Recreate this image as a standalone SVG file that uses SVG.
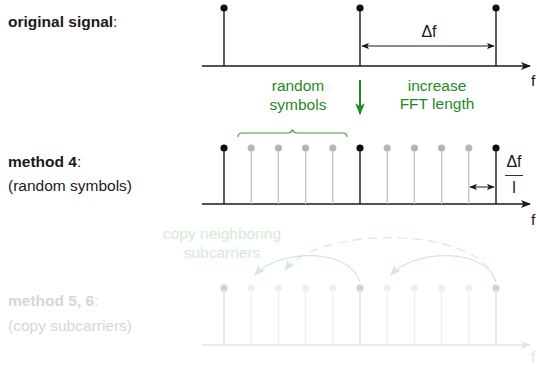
<svg xmlns="http://www.w3.org/2000/svg" width="537" height="365" viewBox="0 0 537 365">
<defs>
<style>
text{font-family:"Liberation Sans",Arial,sans-serif;font-size:15.5px}
.b{font-weight:bold}
.k{fill:#1a1a1a}
.g{fill:#1f8a1f}
.fg{fill:#d5ead5}
.fk{fill:#d6d6d6}
.ax{stroke:#1a1a1a;stroke-width:1.3;fill:none}
.st{stroke:#1a1a1a;stroke-width:1.4}
.sg{stroke:#bdbdbd;stroke-width:1.2}
.fs{stroke:#d9d9d9;stroke-width:1.2}
.fl{stroke:#efefef;stroke-width:1.2}
</style>
<marker id="ah" viewBox="0 0 10 8" refX="9" refY="4" markerWidth="10" markerHeight="8" markerUnits="userSpaceOnUse" orient="auto-start-reverse">
<path d="M0,0 L10,4 L0,8 L2.5,4 z" fill="#1a1a1a"/>
</marker>
<marker id="ahs" viewBox="0 0 10 8" refX="9" refY="4" markerWidth="8" markerHeight="6.4" markerUnits="userSpaceOnUse" orient="auto-start-reverse">
<path d="M0,0 L10,4 L0,8 L2.5,4 z" fill="#1a1a1a"/>
</marker>
<marker id="ahf" viewBox="0 0 10 8" refX="9" refY="4" markerWidth="10" markerHeight="8" markerUnits="userSpaceOnUse" orient="auto">
<path d="M0,0 L10,4 L0,8 L2.5,4 z" fill="#e3e3e3"/>
</marker>
<marker id="ahg" viewBox="0 0 10 8" refX="9" refY="4" markerWidth="11" markerHeight="9" markerUnits="userSpaceOnUse" orient="auto">
<path d="M0,0 L10,4 L0,8 L2.5,4 z" fill="#d3e9d3"/>
</marker>
<marker id="ahG" viewBox="0 0 10 8" refX="9" refY="4" markerWidth="12" markerHeight="10" markerUnits="userSpaceOnUse" orient="auto">
<path d="M0,0 L10,4 L0,8 L2.5,4 z" fill="#1f8a1f"/>
</marker>
</defs>
<rect width="537" height="365" fill="#ffffff"/>

<g id="original">
<text x="8" y="27" class="k"><tspan class="b">original signal</tspan>:</text>
<line x1="202" y1="66" x2="530" y2="66" class="ax" marker-end="url(#ah)"/>
<text x="531" y="86" class="k">f</text>
<line x1="224" y1="8" x2="224" y2="66" class="st"/>
<line x1="360" y1="8" x2="360" y2="66" class="st"/>
<line x1="496" y1="8" x2="496" y2="66" class="st"/>
<circle cx="224" cy="8" r="3.6" fill="#111"/>
<circle cx="360" cy="8" r="3.6" fill="#111"/>
<circle cx="496" cy="8" r="3.6" fill="#111"/>
<line x1="362" y1="46" x2="494" y2="46" stroke="#1a1a1a" stroke-width="1" marker-start="url(#ahs)" marker-end="url(#ahs)"/>
<text x="429" y="37" class="k" text-anchor="middle" style="font-size:16px">Δf</text>
</g>

<g id="transition">
<line x1="360" y1="80" x2="360" y2="114" stroke="#1f8a1f" stroke-width="2" marker-end="url(#ahG)"/>
<text x="298" y="91" class="g" text-anchor="middle">random</text>
<text x="298" y="110" class="g" text-anchor="middle">symbols</text>
<text x="437" y="91" class="g" text-anchor="middle">increase</text>
<text x="437" y="109" class="g" text-anchor="middle">FFT length</text>
</g>

<g id="method4">
<text x="8" y="167" class="k"><tspan class="b">method 4</tspan>:</text>
<text x="8" y="191" class="k">(random symbols)</text>
<path d="M238,137 Q238,133 242,133 L288,133 Q291,133 292.5,130 Q294,133 297,133 L343,133 Q347,133 347,137" fill="none" stroke="#3a9e3a" stroke-width="1.1"/>
<line x1="202" y1="204" x2="530" y2="204" class="ax" marker-end="url(#ah)"/>
<text x="531" y="225" class="k">f</text>
<g class="sg">
<line x1="251.2" y1="148" x2="251.2" y2="204"/>
<line x1="278.4" y1="148" x2="278.4" y2="204"/>
<line x1="305.6" y1="148" x2="305.6" y2="204"/>
<line x1="332.8" y1="148" x2="332.8" y2="204"/>
<line x1="387.2" y1="148" x2="387.2" y2="204"/>
<line x1="414.4" y1="148" x2="414.4" y2="204"/>
<line x1="441.6" y1="148" x2="441.6" y2="204"/>
<line x1="468.8" y1="148" x2="468.8" y2="204"/>
</g>
<g fill="#b5b5b5">
<circle cx="251.2" cy="148" r="3.6"/>
<circle cx="278.4" cy="148" r="3.6"/>
<circle cx="305.6" cy="148" r="3.6"/>
<circle cx="332.8" cy="148" r="3.6"/>
<circle cx="387.2" cy="148" r="3.6"/>
<circle cx="414.4" cy="148" r="3.6"/>
<circle cx="441.6" cy="148" r="3.6"/>
<circle cx="468.8" cy="148" r="3.6"/>
</g>
<line x1="224" y1="148" x2="224" y2="204" class="st"/>
<line x1="360" y1="148" x2="360" y2="204" class="st"/>
<line x1="496" y1="148" x2="496" y2="204" class="st"/>
<circle cx="224" cy="148" r="3.6" fill="#111"/>
<circle cx="360" cy="148" r="3.6" fill="#111"/>
<circle cx="496" cy="148" r="3.6" fill="#111"/>
<line x1="470" y1="187" x2="494" y2="187" stroke="#1a1a1a" stroke-width="1" marker-start="url(#ahs)" marker-end="url(#ahs)"/>
<text x="514" y="167" class="k" text-anchor="middle" style="font-size:16px">Δf</text>
<line x1="505" y1="175.5" x2="523" y2="175.5" stroke="#1a1a1a" stroke-width="0.9"/>
<text x="514" y="193" class="k" text-anchor="middle" style="font-size:16px">l</text>
</g>

<g id="method56">
<text x="8" y="306" class="fk"><tspan class="b">method 5, 6</tspan>:</text>
<text x="8" y="331" class="fk">(copy subcarriers)</text>
<line x1="202" y1="345" x2="530" y2="345" stroke="#e3e3e3" stroke-width="1.3" marker-end="url(#ahf)"/>
<text x="531" y="362" fill="#e3e3e3" style="font-size:15px">f</text>
<g class="fl">
<line x1="251.2" y1="288" x2="251.2" y2="345"/>
<line x1="278.4" y1="288" x2="278.4" y2="345"/>
<line x1="305.6" y1="288" x2="305.6" y2="345"/>
<line x1="332.8" y1="288" x2="332.8" y2="345"/>
<line x1="387.2" y1="288" x2="387.2" y2="345"/>
<line x1="414.4" y1="288" x2="414.4" y2="345"/>
<line x1="441.6" y1="288" x2="441.6" y2="345"/>
<line x1="468.8" y1="288" x2="468.8" y2="345"/>
</g>
<g fill="#efefef">
<circle cx="251.2" cy="288" r="3.6"/>
<circle cx="278.4" cy="288" r="3.6"/>
<circle cx="305.6" cy="288" r="3.6"/>
<circle cx="332.8" cy="288" r="3.6"/>
<circle cx="387.2" cy="288" r="3.6"/>
<circle cx="414.4" cy="288" r="3.6"/>
<circle cx="441.6" cy="288" r="3.6"/>
<circle cx="468.8" cy="288" r="3.6"/>
</g>
<g class="fs">
<line x1="224" y1="288" x2="224" y2="345"/>
<line x1="360" y1="288" x2="360" y2="345"/>
<line x1="496" y1="288" x2="496" y2="345"/>
</g>
<g fill="#d2d2d2">
<circle cx="224" cy="288" r="3.6"/>
<circle cx="360" cy="288" r="3.6"/>
<circle cx="496" cy="288" r="3.6"/>
</g>
<text x="222" y="239" class="fg" text-anchor="middle">copy neighboring</text>
<text x="222" y="258" class="fg" text-anchor="middle">subcarriers</text>
</g>

<g id="connectors" fill="none" stroke="#d3e9d3" stroke-width="1.2">
<path d="M360,282 C350,248 280,248 255,275" marker-end="url(#ahg)"/>
<path d="M496,282 C486,248 416,248 391,275" marker-end="url(#ahg)"/>
<path d="M496,282 C480,225 320,225 285,270" stroke-dasharray="9,6" marker-end="url(#ahg)"/>
</g>
</svg>
